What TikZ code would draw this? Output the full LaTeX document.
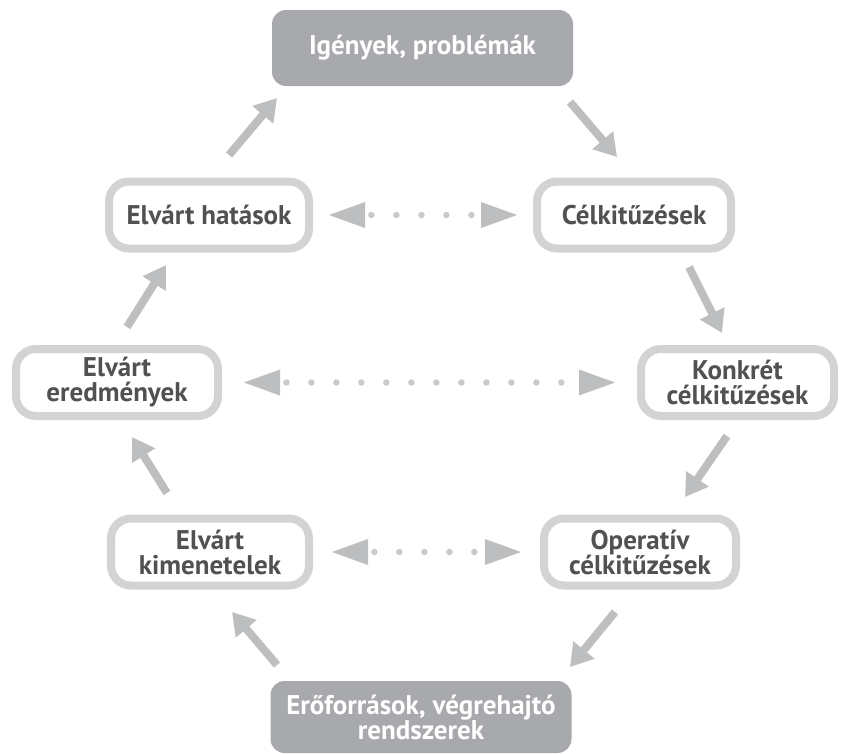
\documentclass[tikz,border=0pt]{standalone}
\usepackage{fontspec}
\setmainfont{PT Sans}
\usepackage{xcolor}
\usetikzlibrary{arrows.meta}

\definecolor{boxgray}{HTML}{A7A9AC}
\definecolor{framegray}{HTML}{D1D3D4}
\definecolor{arrowgray}{HTML}{BCBEC0}
\definecolor{dotgray}{HTML}{C9CACC}
\definecolor{textgray}{HTML}{505153}

\begin{document}
\begin{tikzpicture}[x=1pt, y=-1pt,
    label font/.style={font=\bfseries\fontsize{27}{25}\selectfont},
    endbox/.style={label font, fill=boxgray, text=white, rounded corners=14pt,
        minimum width=301pt, minimum height=76pt, align=center},
    stagebox/.style={label font, draw=framegray, line width=8pt, text=textgray,
        rounded corners=20pt, minimum width=#1, minimum height=67pt, align=center},
    stagebox/.default=200pt,
    flow/.style={draw=arrowgray, line width=8pt, -{Triangle[length=22pt,width=26pt]}},
    link/.style={draw=dotgray, line width=6.5pt, line cap=round,
        dash pattern=on 0pt off 25pt, dash phase=17pt,
        {Triangle[length=37pt,width=24pt,color=arrowgray]}-{Triangle[length=37pt,width=24pt,color=arrowgray]},
        shorten <=#1, shorten >=#1}]
    \useasboundingbox (0,0) rectangle (842,753);

    % Start and end
    \node[endbox] (igeny) at (422.5,48) {Igények, problémák};
    \node[endbox, minimum height=72pt] (forras) at (421,717) {Erőforrások, végrehajtó\\rendszerek};

    % Right column
    \node[stagebox=194pt] (cel) at (634,215) {Célkitűzések};
    \node[stagebox=193pt] (konkret) at (737.5,382.5) {Konkrét\\célkitűzések};
    \node[stagebox=192pt] (operativ) at (640,552) {Operatív\\célkitűzések};

    % Left column
    \node[stagebox] (hatas) at (209,215) {Elvárt hatások};
    \node[stagebox=202pt] (eredmeny) at (117,382.5) {Elvárt\\eredmények};
    \node[stagebox=198pt] (kimenet) at (210,552) {Elvárt\\kimenetelek};

    % Arrow ends
    \coordinate (a1) at (570,102);  \coordinate (b1) at (617,157);
    \coordinate (a2) at (689,267);  \coordinate (b2) at (722,333);
    \coordinate (a3) at (727,436);  \coordinate (b3) at (685,497);
    \coordinate (a4) at (615,612);  \coordinate (b4) at (570,667);
    \coordinate (a5) at (277,665);  \coordinate (b5) at (232,612);
    \coordinate (a6) at (167,493);  \coordinate (b6) at (132,437);
    \coordinate (a7) at (127,327);  \coordinate (b7) at (166,265);
    \coordinate (a8) at (229,155);  \coordinate (b8) at (277,98);

    % Cycle arrows
    \foreach \i in {1,...,8}
        \draw[flow] (a\i) -- (b\i);

    % Correspondences
    \draw[link=15pt] (hatas) -- (cel);
    \draw[link=21pt] (eredmeny) -- (konkret);
    \draw[link=18pt] (kimenet) -- (operativ);
\end{tikzpicture}
\end{document}
